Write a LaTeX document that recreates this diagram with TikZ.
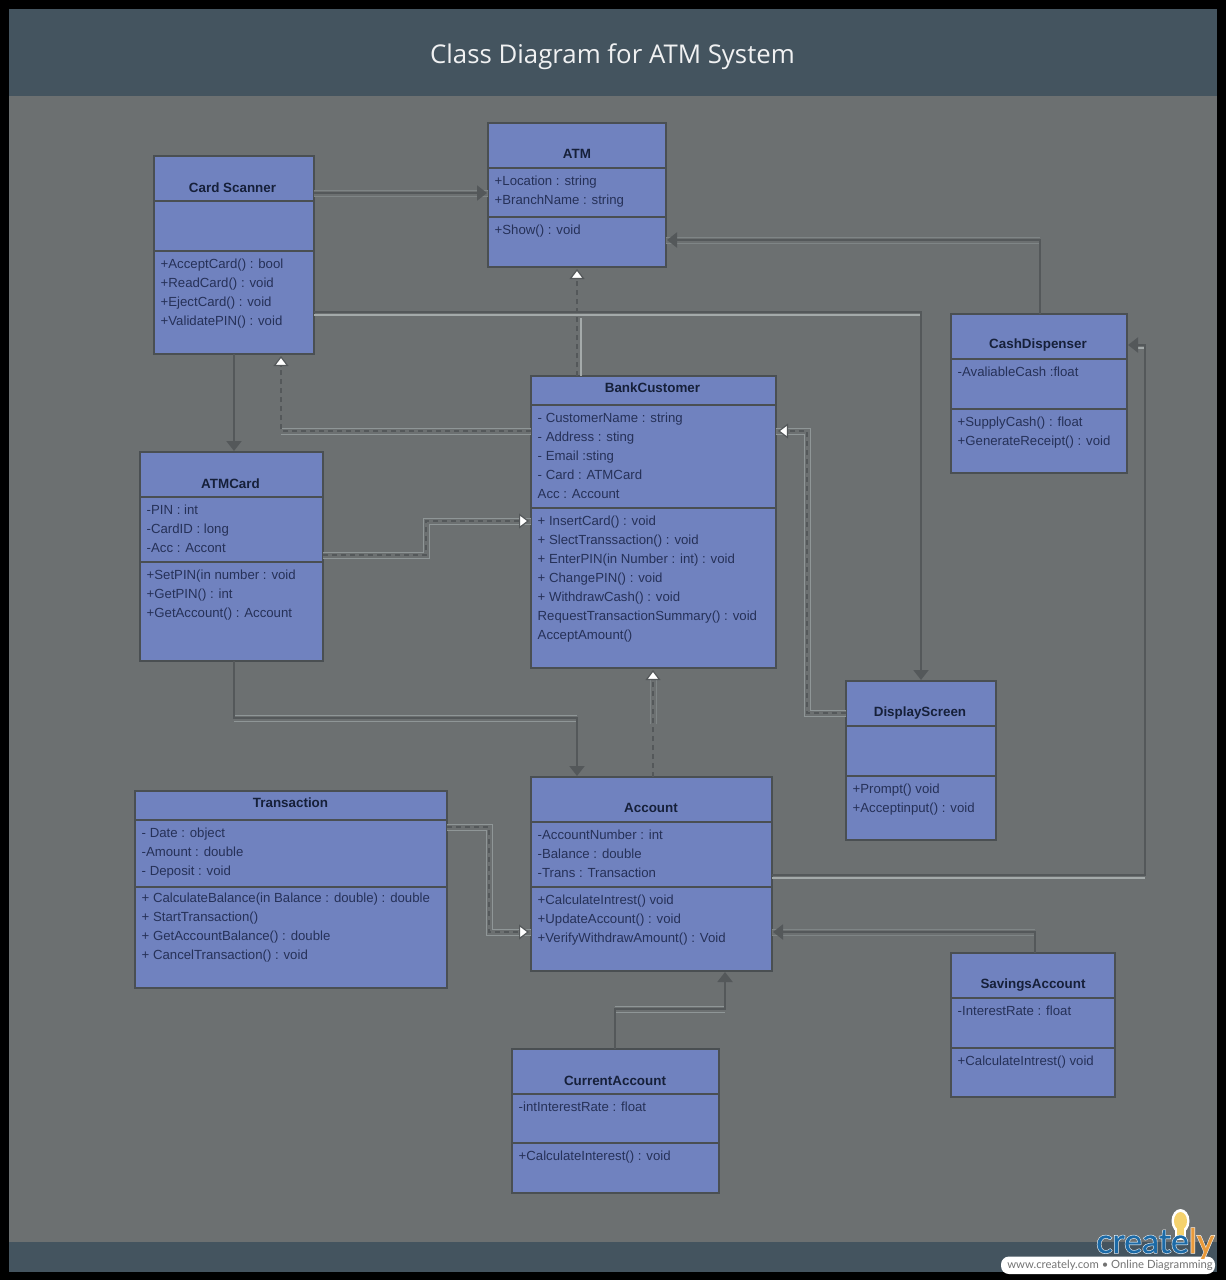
\documentclass[tikz,border=0pt]{standalone}
\usepackage{fontspec}
\setmainfont{Liberation Sans}
\newfontfamily\titlefont{Open Sans}
\newfontfamily\logofont{Lato}
\newfontfamily\logohalo[FakeBold=4]{Lato}
\newfontfamily\logomain[FakeBold=0.8]{Lato}
\usetikzlibrary{arrows.meta}
\definecolor{bgc}{HTML}{6C7071}
\definecolor{headc}{HTML}{44545F}
\definecolor{boxc}{HTML}{7082BF}
\definecolor{edgec}{HTML}{4A4F52}
\definecolor{linec}{HTML}{54585A}
\definecolor{lightc}{HTML}{8F9697}
\definecolor{faintc}{HTML}{7F8586}
\definecolor{brightc}{HTML}{A4AAAA}
\definecolor{inkc}{HTML}{263158}
\definecolor{titlec}{HTML}{16203A}
\definecolor{bulbc}{HTML}{F5D26E}
\tikzset{
  classbox/.style={draw=edgec,fill=boxc,line width=2pt,inner sep=0pt,outer sep=0pt},
  divider/.style={draw=edgec,line width=2pt},
  classtitle/.style={font=\bfseries\fontsize{13.4}{16}\selectfont,text=titlec,inner sep=0pt},
  members/.style={font=\fontsize{13.2}{19}\selectfont,text=inkc,inner sep=0pt,align=left,anchor=north west},
  solidarrow/.style={draw=linec,line width=2pt,shorten >=1pt,-{Triangle[length=10pt,width=15pt,fill=linec]}},
  dasharrow/.style={draw=linec,line width=1.8pt,dash pattern=on 5pt off 4pt,shorten >=2pt,-{Triangle[length=10pt,width=15pt,fill=white,line width=1.2pt]}},
  halo/.style={draw=lightc,line width=1pt,double=bgc,double distance=5pt},
  halofaint/.style={draw=faintc,line width=1pt,double=bgc,double distance=5pt},
  underline/.style={draw=brightc,line width=1.2pt},
}
\newcommand{\umlbox}[7]{%
  \pgfmathsetmacro\bcx{(#2+#4)/2}\pgfmathsetmacro\bcy{(#3+#5)/2}%
  \pgfmathsetmacro\bw{#4-#2}\pgfmathsetmacro\bh{#5-#3}%
  \node[classbox,minimum width=\bw pt,minimum height=\bh pt] (#1) at (\bcx,\bcy) {};
  \draw[divider] (#1.west |- 0,#6) -- (#1.east |- 0,#6);
  \draw[divider] (#1.west |- 0,#7) -- (#1.east |- 0,#7);
}
\begin{document}
\begin{tikzpicture}[x=1pt,y=-1pt]
\useasboundingbox (0,0) rectangle (1226,1280);
\fill[black] (0,0) rectangle (1226,1280);
\fill[bgc] (9,9) rectangle (1217,1272);
\fill[headc] (9,9) rectangle (1217,96);
\fill[headc] (9,1242) rectangle (1217,1272);
\node[font=\titlefont\fontsize{25.8}{30}\selectfont,text=white!92!headc,inner sep=0pt] (title) at (612.5,57) {Class Diagram for ATM System};

% classes
\umlbox{atm}{488}{123}{666}{267}{168}{217}
\umlbox{scanner}{154}{156}{314}{354}{201}{251}
\umlbox{customer}{531}{376}{776}{668}{405}{508}
\umlbox{cash}{951}{314}{1127}{473}{359}{409}
\umlbox{card}{140}{452}{323}{661}{497}{562}
\umlbox{screen}{846}{681}{996}{840}{726}{776}
\umlbox{trans}{135}{791}{447}{988}{820}{887}
\umlbox{account}{531}{777}{772}{971}{822}{887}
\umlbox{savings}{951}{953}{1115}{1097}{998}{1048}
\umlbox{current}{512}{1049}{719}{1193}{1094}{1143}

% titles
\node[classtitle] (atmT) at (577,154) {ATM};
\node[classtitle] (scannerT) at (232.5,187.5) {Card Scanner};
\node[classtitle] (customerT) at (652.5,388) {BankCustomer};
\node[classtitle] (cashT) at (1038,345.5) {CashDispenser};
\node[classtitle] (cardT) at (230.5,484) {ATMCard};
\node[classtitle] (screenT) at (920,713) {DisplayScreen};
\node[classtitle] (transT) at (290.5,803) {Transaction};
\node[classtitle] (accountT) at (651,808) {Account};
\node[classtitle] (savingsT) at (1033,985.5) {SavingsAccount};
\node[classtitle] (currentT) at (615,1080.5) {CurrentAccount};

% members
\node[members] (atmA) at (494.5,176) {+Location : string\\+BranchName : string};
\node[members] (atmO) at (494.5,225) {+Show() : void};
\node[members] (scannerO) at (160.5,259) {+AcceptCard() : bool\\+ReadCard() : void\\+EjectCard() : void\\+ValidatePIN() : void};
\node[members] (customerA) at (537.5,413) {- CustomerName : string\\- Address : sting\\- Email :sting\\- Card : ATMCard\\Acc : Account};
\node[members] (customerO) at (537.5,516) {+ InsertCard() : void\\+ SlectTranssaction() : void\\+ EnterPIN(in Number : int) : void\\+ ChangePIN() : void\\+ WithdrawCash() : void\\RequestTransactionSummary() : void\\AcceptAmount()};
\node[members] (cashA) at (957.5,367) {-AvaliableCash :float};
\node[members] (cashO) at (957.5,416.5) {+SupplyCash() : float\\+GenerateReceipt() : void};
\node[members] (cardA) at (146.5,505) {-PIN : int\\-CardID : long\\-Acc : Accont};
\node[members] (cardO) at (146.5,570) {+SetPIN(in number : void\\+GetPIN() : int\\+GetAccount() : Account};
\node[members] (screenO) at (852.5,784) {+Prompt() void\\+Acceptinput() : void};
\node[members] (transA) at (141.5,828) {- Date : object\\-Amount : double\\- Deposit : void};
\node[members] (transO) at (141.5,893) {+ CalculateBalance(in Balance : double) : double\\+ StartTransaction()\\+ GetAccountBalance() : double\\+ CancelTransaction() : void};
\node[members] (accountA) at (537.5,830) {-AccountNumber : int\\-Balance : double\\-Trans : Transaction};
\node[members] (accountO) at (537.5,895) {+CalculateIntrest() void\\+UpdateAccount() : void\\+VerifyWithdrawAmount() : Void};
\node[members] (savingsA) at (957.5,1006) {-InterestRate : float};
\node[members] (savingsO) at (957.5,1056) {+CalculateIntrest() void};
\node[members] (currentA) at (518.5,1102) {-intInterestRate : float};
\node[members] (currentO) at (518.5,1151) {+CalculateInterest() : void};

% bend points
\coordinate (h1) at (0,193);
\coordinate (b2) at (1040,240);
\coordinate (b3) at (921,312);
\coordinate (b4) at (234,0);
\coordinate (b5) at (577,0);
\coordinate (b6) at (281,431);
\coordinate (b7) at (426,555);
\coordinate (b7b) at (426,521);
\coordinate (b8) at (807,713);
\coordinate (b8b) at (807,431);
\coordinate (b9) at (234,718);
\coordinate (b9b) at (577,718);
\coordinate (b10) at (653,0);
\coordinate (b11) at (489,827);
\coordinate (b11b) at (489,932);
\coordinate (b12) at (1145,875);
\coordinate (b12b) at (1145,345);
\coordinate (b13) at (1035,932);
\coordinate (b14) at (615,1009);
\coordinate (b14b) at (725,1009);

% highlights under the connectors
\draw[halofaint] (scanner.east |- h1) -- (atm.west |- h1);
\draw[halofaint] (b2) -- (atm.east |- b2);
\draw[underline] (scanner.east |- 0,315) -- (b3 |- 0,315);
\draw[underline] (581,318) -- (581,376);
\draw[halo] (b6) -- (customer.west |- b6);
\draw[halo] (card.east |- b7) -- (b7) -- (b7b) -- (customer.west |- b7b);
\draw[halo] (screen.west |- b8) -- (b8) -- (b8b) -- (customer.east |- b8b);
\draw[halo] (b9) -- (b9b);
\draw[halofaint] (b10 |- 0,678) -- (b10 |- 0,724);
\draw[halo] (trans.east |- b11) -- (b11) -- (b11b) -- (account.west |- b11b);
\draw[underline] (account.east |- 0,878) -- (1145,878);
\draw[underline] (1136,348) -- (1145,348);
\draw[halofaint] (b13) -- (account.east |- b13);
\draw[halo] (b14) -- (b14b);

% connectors
\draw[solidarrow] (scanner.east |- h1) -- (atm.west |- h1);
\draw[solidarrow] (cash.north -| b2) -- (b2) -- (atm.east |- b2);
\draw[solidarrow] (scanner.east |- b3) -- (b3) -- (screen.north -| b3);
\draw[solidarrow] (scanner.south -| b4) -- (card.north -| b4);
\draw[dasharrow] (customer.north -| b5) -- (atm.south -| b5);
\draw[dasharrow] (customer.west |- b6) -- (b6) -- (scanner.south -| b6);
\draw[dasharrow] (card.east |- b7) -- (b7) -- (b7b) -- (customer.west |- b7b);
\draw[dasharrow] (screen.west |- b8) -- (b8) -- (b8b) -- (customer.east |- b8b);
\draw[solidarrow] (card.south -| b9) -- (b9) -- (b9b) -- (account.north -| b9b);
\draw[dasharrow] (account.north -| b10) -- (customer.south -| b10);
\draw[dasharrow] (trans.east |- b11) -- (b11) -- (b11b) -- (account.west |- b11b);
\draw[solidarrow] (account.east |- b12) -- (b12) -- (b12b) -- (cash.east |- b12b);
\draw[solidarrow] (savings.north -| b13) -- (b13) -- (account.east |- b13);
\draw[solidarrow] (current.north -| b14) -- (b14) -- (b14b) -- (account.south -| b14b);

% logo
\fill[white,rounded corners=8pt] (1001,1256.5) rectangle (1215,1274);
\fill[white] (1180.5,1221) ellipse (9pt and 12pt);
\fill[white] (1175,1228) rectangle (1186,1240);
\fill[bulbc] (1180.5,1221) ellipse (6.5pt and 9pt);
\fill[bulbc] (1177,1228) rectangle (1184,1238);
\node[font=\logohalo\fontsize{34}{40}\selectfont,text=white,inner sep=0pt,anchor=base west] (logoHalo) at (1096,1253) {creately};
\node[font=\logomain\fontsize{34}{40}\selectfont,inner sep=0pt,anchor=base west] (logo) at (1096,1253) {\textcolor[HTML]{1C6AA6}{create}\textcolor[HTML]{E89A3C}{ly}};
\node[font=\logofont\fontsize{11.3}{12}\selectfont,text=black!55,inner sep=0pt] (logoUrl) at (1110,1265) {www.creately.com • Online Diagramming};
\end{tikzpicture}
\end{document}
